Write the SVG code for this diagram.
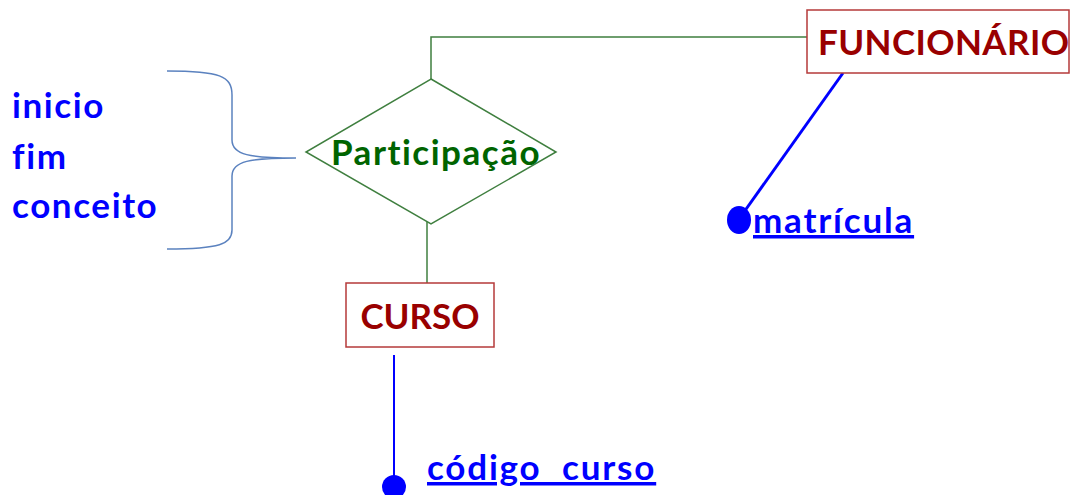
<svg xmlns="http://www.w3.org/2000/svg" width="1073" height="495" viewBox="0 0 1073 495">
<style>
text{font-family:Lato,"Liberation Sans",sans-serif;font-weight:bold;font-variant-ligatures:none}
.ent{fill:#fff;stroke:#b53a3a;stroke-width:1.5}
.entt{fill:#990000;font-size:35px}
.blue{fill:#0000ff;font-size:35px;letter-spacing:1.6px}
.attr{fill:#0000ff;font-size:35px;letter-spacing:1.8px;text-decoration:underline}
.g{stroke:#3f7f3f;stroke-width:1.5;fill:none}
.b{stroke:#0000ff;fill:none}
</style>
<rect width="1073" height="495" fill="#fff"/>
<g id="connectors">
<polyline class="g" points="431,79 431,37 807,37"/>
<line class="g" x1="427" y1="221" x2="427" y2="283"/>
<line class="b" stroke-width="3" x1="843" y1="73" x2="744" y2="212"/>
<line class="b" stroke-width="2" x1="394" y1="355" x2="394" y2="478"/>
<ellipse cx="739" cy="220" rx="12" ry="14" fill="#0000ff"/>
<circle cx="394" cy="487" r="12" fill="#0000ff"/>
</g>
<g id="attrs-left">
<text class="blue" x="12" y="118">inicio</text>
<text class="blue" x="12" y="169">fim</text>
<text class="blue" x="12" y="218">conceito</text>
<path d="M167,71 C220,71 232,76 232,95 L232,140 C232,155 250,158 296,158 C250,158 232,161 232,176 L232,230 C232,244 220,249 167,249" fill="none" stroke="#5b82bf" stroke-width="1.5"/>
</g>
<g id="participacao">
<polygon points="431,79 556,152 431,224 306,152" fill="#fff" stroke="#3f7f3f" stroke-width="1.5"/>
<text x="331" y="165" fill="#006400" font-size="35px" letter-spacing="1.5">Participação</text>
</g>
<g id="funcionario">
<rect class="ent" x="807" y="10" width="262" height="63"/>
<text class="entt" x="818" y="55" letter-spacing="0.4">FUNCIONÁRIO</text>
</g>
<g id="curso">
<rect class="ent" x="346" y="283" width="148" height="64"/>
<text class="entt" x="420" y="329" text-anchor="middle">CURSO</text>
</g>
<g id="matricula">
<text class="attr" x="753" y="233">matrícula</text>
</g>
<g id="codigo">
<text class="attr" x="427" y="480" xml:space="preserve">código  curso</text>
</g>
</svg>
